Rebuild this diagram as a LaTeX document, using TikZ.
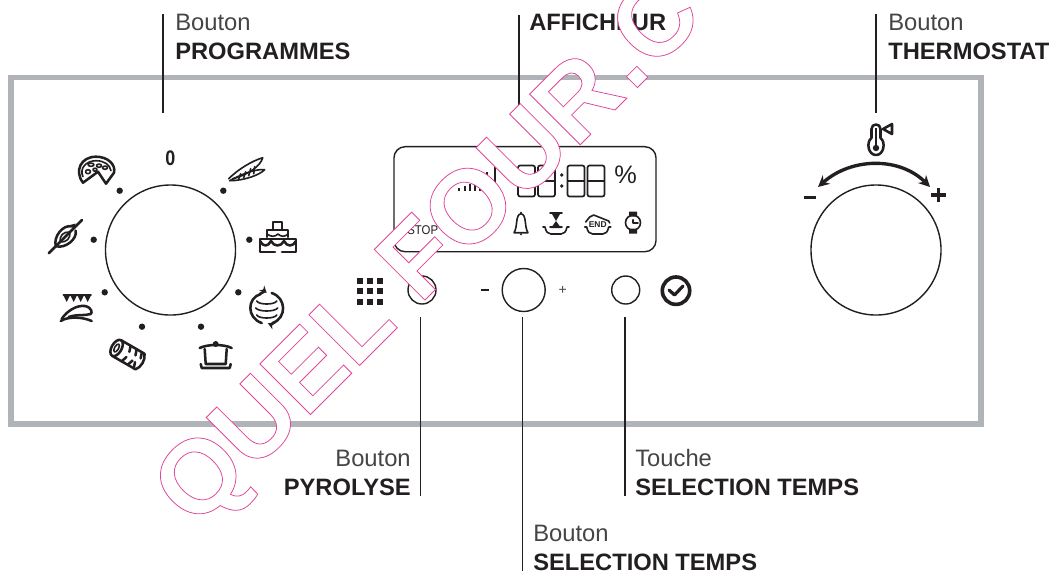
\documentclass[tikz,border=0pt]{standalone}
\usepackage{fontspec}
\setmainfont{Liberation Sans}
\usepackage{xcolor}
\usetikzlibrary{positioning,arrows.meta,calc}
\definecolor{panelgray}{RGB}{176,180,184}
\definecolor{inkblack}{RGB}{35,31,32}
\definecolor{lightink}{RGB}{70,68,70}
\definecolor{stamppink}{RGB}{224,64,150}
\tikzset{
  leader/.style={draw=inkblack, line width=1.35pt},
  knob/.style={circle, draw=inkblack, line width=1pt, inner sep=0pt},
  plainlabel/.style={font=\fontsize{16.9}{20}\selectfont, color=lightink, inner sep=0pt},
  boldlabel/.style={font=\fontsize{16.85}{20}\selectfont\bfseries, color=inkblack, inner sep=0pt},
  icon/.style={draw=inkblack, line width=1.8pt, line cap=round, line join=round},
  thinicon/.style={draw=inkblack, line width=1.15pt, line cap=round, line join=round},
  tick/.style={fill=inkblack, draw=none}
}
\newcommand{\segdigit}[1]{\draw[inkblack, line width=1.2pt, rounded corners=1.5pt] (#1,165.5) rectangle (#1+17,196.5);
  \draw[inkblack, line width=1.2pt] (#1,181) -- (#1+17,181);}
\begin{document}
\begin{tikzpicture}[x=0.025cm,y=-0.025cm]
\useasboundingbox (0,0) rectangle (1058,574);
\clip (0,0) rectangle (1058,574);
% panel
\draw[panelgray, line width=3.9pt] (11,77.5) rectangle (981,424);
% programme dial
\node[knob, minimum size=3.25cm] (progdial) at (170.5,250) {};
\foreach \px/\py in {119.7/190.7,223.3/190.7,93.7/239.7,249.3/239.7,104.7/292.3,238.3/292.3,142/326.7,201/326.7}
  \fill[tick] (\px,\py) circle (3.2);
\node[font=\fontsize{15}{16}\selectfont\bfseries, color=inkblack, inner sep=0pt, xscale=0.85] (zeromark) at (170.3,158.5) {0};
% pizza
\begin{scope}[shift={(96,170.7)}]
\draw[icon] (-13,12) .. controls (-22,0) and (-15,-14) .. (0,-14) .. controls (12,-14) and (20,-6) .. (18,2) -- (10,13) -- (2,1) -- cycle;
\draw[thinicon] (-13,6) .. controls (-17,-2) and (-10,-10) .. (0,-10) .. controls (8,-10) and (14,-6) .. (15,0);
\draw[thinicon] (-5,-6) ellipse (3 and 1.6);
\draw[thinicon] (3,-5) ellipse (2.5 and 1.6);
\draw[thinicon] (-8,1) ellipse (2.5 and 2);
\draw[thinicon] (-1,-1) ellipse (2 and 1.5);
\draw[thinicon] (9,-3) ellipse (2.5 and 1.6);
\end{scope}
% baguettes
\begin{scope}[shift={(246.7,170.7)}]
\draw[thinicon] (-18,8) .. controls (-8,-2) and (6,-10) .. (16,-13) .. controls (14,-5) and (2,4) .. (-14,8);
\draw[thinicon] (-17,10) .. controls (-6,4) and (8,-2) .. (18,-1) .. controls (12,5) and (-4,10) .. (-17,10);
\draw[thinicon] (-8,8) -- (-6,3) (-3,7) -- (-1,1) (2,5) -- (4,-2) (7,3) -- (8,-4);
\end{scope}
% cake
\begin{scope}[shift={(278,237)}]
\draw[icon] (-5,-7) -- (-5,-15) -- (4,-15) -- (4,-7);
\draw[icon] (-11,0) -- (-11,-7) -- (10,-7) -- (10,0);
\draw[icon] (-3,15) -- (-18,15) -- (-18,2) -- (18,2) -- (18,15) -- (4,15);
\draw[icon] (-18,4) .. controls (-15,10) and (-10,10) .. (-7,4) .. controls (-4,10) and (3,10) .. (6,4) .. controls (9,10) and (15,10) .. (18,4);
\draw[thinicon] (-11,-3) .. controls (-7,0) and (-3,0) .. (0,-3) .. controls (3,0) and (7,0) .. (10,-3);
\end{scope}
% rotating heat
\begin{scope}[shift={(266.7,308)}]
\draw[icon] (-6,-14) .. controls (-20,-10) and (-20,10) .. (-5,15);
\draw[icon, -{Stealth[length=5pt,width=5pt]}] (-7,-14) .. controls (-4,-16) and (-1,-16) .. (0,-15);
\draw[icon] (5,-15) .. controls (20,-10) and (20,10) .. (6,15);
\draw[icon, -{Stealth[length=5pt,width=5pt]}] (7,15) .. controls (5,16) and (3,16) .. (1,15);
\draw[thinicon] (-10,-7) .. controls (-8,-3) and (8,-3) .. (10,-7);
\draw[thinicon] (-11,0) .. controls (-8,4) and (8,4) .. (11,0);
\draw[thinicon] (-10,7) .. controls (-8,11) and (8,11) .. (10,7);
\end{scope}
% pot
\begin{scope}[shift={(215.7,355)}]
\draw[icon] (-16,-7) .. controls (-8,-11) and (8,-11) .. (16,-7);
\fill[inkblack] (0,-11) circle (3);
\draw[icon] (-11,-6) -- (-10,9) -- (10,9) -- (11,-6);
\draw[icon] (-15,9) -- (-14,13) -- (14,13) -- (15,9);
\end{scope}
% roll
\begin{scope}[shift={(127,354)}, rotate=-30]
\draw[icon] (-12,-9) -- (15,-9) .. controls (19,-5) and (19,5) .. (15,9) -- (-12,9);
\draw[icon] (-12,0) ellipse (5 and 9);
\draw[thinicon] (-12,0) ellipse (2 and 4.5);
\draw[icon] (-1,-9) -- (1,-3) (6,-9) -- (8,-3) (12,-9) -- (14,-3) (-1,9) -- (1,3) (6,9) -- (8,3) (11,3) -- (13,9);
\end{scope}
% grill
\begin{scope}[shift={(76.7,308)}]
\draw[icon] (-13,-13) -- (14,-13);
\foreach \tx in {-10,-3,4,11}
  \fill[inkblack] (\tx-3.5,-13) -- (\tx+3.5,-13) -- (\tx,-6) -- cycle;
\draw[icon] (-15,11) .. controls (-10,3) and (0,-3) .. (8,-2) .. controls (15,-1) and (16,5) .. (14,6) .. controls (8,8) and (0,6) .. (-8,9);
\draw[icon] (-16,13) .. controls (-8,8) and (6,9) .. (15,13);
\end{scope}
% chicken
\begin{scope}[shift={(65,237)}, rotate=45]
\draw[icon] (-23,0) -- (24,0);
\draw[icon] (-13,0) .. controls (-8,-9) and (8,-10) .. (12,-3);
\draw[icon] (-13,0) .. controls (-8,9) and (8,10) .. (12,3);
\draw[thinicon] (-7,0) .. controls (-3,-5) and (3,-5) .. (7,0) .. controls (3,5) and (-3,5) .. (-7,0);
\fill[inkblack] (12,-5) -- (17,-2) -- (12,1) -- cycle;
\end{scope}
% display
\node[draw=inkblack, line width=1pt, rounded corners=8pt, minimum width=6.55cm, minimum height=2.625cm, inner sep=0pt] (display) at (525,199.2) {};
\foreach \bx/\by in {459/188,465/186,470/184,475/181,480/178,487/172,495/167}
  \draw[inkblack, line width=1.7pt] (\bx,\by) -- (\bx,191);
\segdigit{518}
\segdigit{538}
\segdigit{567.5}
\segdigit{587.5}
\fill[inkblack] (561.7,175) circle (1.8) (561.7,186) circle (1.8);
\node[font=\fontsize{18}{20}\selectfont, color=inkblack, inner sep=0pt] (percent) at (625.7,175) {\%};
\node[font=\fontsize{9}{10}\selectfont, color=inkblack, inner sep=0pt, xscale=0.9] (stopmark) at (422.7,230) {STOP};
% bell
\begin{scope}[shift={(521,222.7)}]
\draw[thinicon] (-7,10) .. controls (-3,4) and (-6,-8) .. (0,-9) .. controls (6,-8) and (3,4) .. (7,10) -- cycle;
\fill[inkblack] (0,-10) circle (1) (0,11.5) circle (1.2);
\end{scope}
% hourglass
\begin{scope}[shift={(556,225)}]
\draw[thinicon] (-13,2) -- (-11,2) .. controls (-10,7) and (-8,9) .. (-5,9) -- (5,9) .. controls (8,9) and (10,7) .. (11,2) -- (13,2);
\draw[thinicon] (-6,-12) -- (6,-12) (-6,2) -- (6,2);
\fill[inkblack] (-4,-11) -- (4,-11) -- (0,-4) -- cycle (0,-4) -- (5,3) -- (-5,3) -- cycle;
\end{scope}
% end
\begin{scope}[shift={(597.7,225)}]
\draw[thinicon] (-13,2) -- (-11,2) .. controls (-10,7) and (-8,9) .. (-5,9) -- (5,9) .. controls (8,9) and (10,7) .. (11,2) -- (13,2);
\draw[thinicon] (-12,-3) -- (-8,-8) -- (-4,-10) -- (11,-4) -- (12,-2);
\node[font=\fontsize{6}{6}\selectfont\bfseries, color=inkblack, inner sep=0pt] (endmark) at (0,0) {END};
\end{scope}
% watch
\begin{scope}[shift={(633,222.7)}]
\draw[thinicon] (0,0) circle (7.5);
\fill[inkblack] (-4,-6) -- (-4,-11) -- (4,-11) -- (4,-6) -- cycle (-4,6) -- (-4,11) -- (4,11) -- (4,6) -- cycle;
\draw[thinicon] (0,-3) -- (0,0) -- (5,0);
\end{scope}
% buttons
\foreach \gx in {360,370,380}
  \foreach \gy in {281,291,302}
    \fill[inkblack] (\gx-3.2,\gy-3.2) rectangle (\gx+3.2,\gy+3.2);
\node[knob, minimum size=0.7cm] (pyrobtn) at (422,290) {};
\node[knob, minimum size=1.075cm] (timeknob) at (523.7,290) {};
\node[knob, minimum size=0.7cm] (timekey) at (625.7,290) {};
\draw[inkblack, line width=1.8pt] (481,290) -- (489,290);
\node[font=\fontsize{10}{10}\selectfont, color=lightink, inner sep=0pt] (plusmark) at (562.7,290) {+};
\draw[inkblack, line width=2.6pt] (676,290.7) circle (13.7);
\draw[inkblack, line width=2.3pt, line cap=round, line join=round] (669,290) -- (674.5,295) -- (683,286);
% thermostat
\node[knob, minimum size=3.25cm] (thermodial) at (876,250) {};
\begin{scope}[shift={(876,135)}]
\draw[icon] (-4.5,3) -- (-4.5,-6) .. controls (-4.5,-12) and (4.5,-12) .. (4.5,-6) -- (4.5,3) .. controls (10,7) and (8,20) .. (0,20) .. controls (-8,20) and (-10,7) .. (-4.5,3);
\fill[inkblack] (0,13) circle (3.2);
\draw[inkblack, line width=1.2pt] (0,-7) -- (0,10);
\draw[icon] (16,-11) -- (7,-6) -- (16,-1) -- cycle;
\end{scope}
\draw[inkblack, line width=2.4pt, {Stealth[length=8pt,width=8pt]}-{Stealth[length=8pt,width=8pt]}] (818,187) .. controls (852,157) and (900,157) .. (930,187);
\draw[inkblack, line width=2.8pt] (804,197.5) -- (816,197.5);
\draw[inkblack, line width=2.8pt] (938.5,188) -- (938.5,202) (931,194.7) -- (946,194.7);
% leaders
\coordinate (progtop) at (163,14);
\coordinate (progend) at (163,113);
\coordinate (disptop) at (519,15);
\coordinate (dispend) at (519,110);
\coordinate (thermotop) at (876,14);
\coordinate (thermoend) at (876,113);
\coordinate (pyrotop) at (420.5,317);
\coordinate (pyroend) at (420.5,496);
\coordinate (knobtop) at (522.5,317);
\coordinate (knobend) at (522.5,571);
\coordinate (keytop) at (624.7,317);
\coordinate (keyend) at (624.7,496);
\draw[leader] (progtop) -- (progend);
\draw[leader] (disptop) -- (dispend);
\draw[leader] (thermotop) -- (thermoend);
\draw[leader] (pyrotop) -- (pyroend);
\draw[leader] (knobtop) -- (knobend);
\draw[leader] (keytop) -- (keyend);
% labels
\node[plainlabel, anchor=base west] (progword) at (175,30) {Bouton};
\node[boldlabel, anchor=base west] (progname) at (175,59) {PROGRAMMES};
\node[boldlabel, anchor=base west] (dispname) at (529,30) {AFFICHEUR};
\node[plainlabel, anchor=base west] (thermoword) at (888,30) {Bouton};
\node[boldlabel, anchor=base west] (thermoname) at (888,59) {THERMOSTAT};
\node[plainlabel, anchor=base east] (pyroword) at (411,466) {Bouton};
\node[boldlabel, anchor=base east] (pyroname) at (411,495) {PYROLYSE};
\node[plainlabel, anchor=base west] (keyword) at (635,466) {Touche};
\node[boldlabel, anchor=base west] (keyname) at (635,495) {SELECTION TEMPS};
\node[plainlabel, anchor=base west] (knobword) at (533,541) {Bouton};
\node[boldlabel, anchor=base west] (knobname) at (533,570) {SELECTION TEMPS};
% stamp
\node[anchor=base west, rotate=45, inner sep=0pt, font=\fontsize{74}{80}\selectfont\bfseries] (stamp) at (195,530)
  {\color{white}\special{pdf:code 2 Tr 0.55 w 0.878 0.28 0.6 RG}QUEL FOUR\kern4pt .C\special{pdf:code 0 Tr}};
\end{tikzpicture}
\end{document}
